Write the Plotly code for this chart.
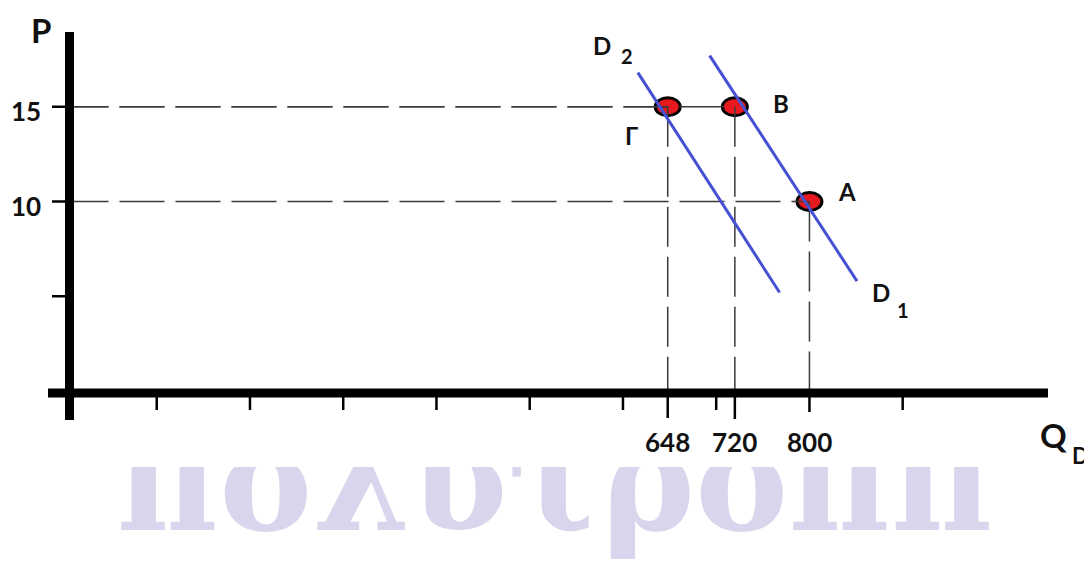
import plotly.graph_objects as go

W, H = 1092, 572
OFF = 8  # page body margin of the html page

# ---- data ----
q_points = [648, 720, 800]          # quantity demanded at the marked points
p_points = [15, 15, 10]             # price at the marked points
point_names = ["Γ", "B", "A"]
d1_q = [693, 851]                   # demand curve D1 end points
d1_p = [17.7, 5.8]
d2_q = [616, 768]                   # demand curve D2 end points
d2_p = [16.8, 5.2]
x_minor_ticks = [100, 200, 300, 400, 500, 600, 700, 900]
x_label_ticks = [648, 720, 800]
y_ticks = [5, 10, 15]
y_label_ticks = [10, 15]
watermark = "πολυτροππ"

X_RANGE = [-59.5, 1111.6]
Y_RANGE = [-9.974, 20.211]

BLUE = "#4650D2"
RED = "#E8191E"
DASH_COL = "#3a3a3a"
TXT = "#111111"
FONT = "Lato"


def pxx(x):
    return (x - OFF) / W


def pxy(y):
    return 1 - (y - OFF) / H


def page_to_data(x, y):
    fx, fy = pxx(x), pxy(y)
    return (X_RANGE[0] + fx * (X_RANGE[1] - X_RANGE[0]),
            Y_RANGE[0] + fy * (Y_RANGE[1] - Y_RANGE[0]))


fig = go.Figure()

# watermark (background text)
wx, wy = page_to_data(555, 495)
fig.add_trace(go.Scatter(x=[wx], y=[wy], mode="text", text=[f"<b>{watermark}</b>"],
                         textposition="middle center",
                         textfont=dict(family="DejaVu Serif", size=140, color="#DAD5ED"),
                         hoverinfo="skip", showlegend=False))

# dashed guide lines
for q, p in zip(q_points, p_points):
    fig.add_trace(go.Scatter(x=[0, q], y=[p, p], mode="lines",
                             line=dict(color=DASH_COL, width=1.5, dash="45px,11px"),
                             hoverinfo="skip", showlegend=False))
    fig.add_trace(go.Scatter(x=[q, q], y=[p, 0], mode="lines",
                             line=dict(color=DASH_COL, width=1.5, dash="40px,10px"),
                             hoverinfo="skip", showlegend=False))

# demand curves
fig.add_trace(go.Scatter(x=d1_q, y=d1_p, mode="lines", line=dict(color=BLUE, width=3),
                         hoverinfo="skip", showlegend=False))
fig.add_trace(go.Scatter(x=d2_q, y=d2_p, mode="lines", line=dict(color=BLUE, width=3),
                         hoverinfo="skip", showlegend=False))

shapes = []
# white band that clips the top of the watermark
shapes.append(dict(type="rect", xref="paper", yref="paper", x0=pxx(90), x1=pxx(1020),
                   y0=pxy(467), y1=pxy(424), fillcolor="white", line=dict(width=0), layer="above"))
# ellipse markers
for q, p in zip(q_points, p_points):
    shapes.append(dict(type="circle", xref="x", yref="y", xsizemode="pixel", ysizemode="pixel",
                       xanchor=q, yanchor=p, x0=-12.5, x1=12.5, y0=-9, y1=9,
                       fillcolor=RED, line=dict(color="black", width=3), layer="below"))

# axes lines
shapes.append(dict(type="line", xref="paper", yref="paper", x0=pxx(69.5), x1=pxx(69.5),
                   y0=pxy(32), y1=pxy(420), line=dict(color="black", width=9), layer="above"))
shapes.append(dict(type="line", xref="paper", yref="paper", x0=pxx(48), x1=pxx(1048),
                   y0=pxy(393), y1=pxy(393), line=dict(color="black", width=9), layer="above"))

# x ticks
for t in x_minor_ticks:
    shapes.append(dict(type="line", xref="x", yref="paper", x0=t, x1=t, y0=pxy(396), y1=pxy(410),
                       line=dict(color="black", width=2.5), layer="above"))
for t, ln in zip(x_label_ticks, [418, 419, 412]):
    shapes.append(dict(type="line", xref="x", yref="paper", x0=t, x1=t, y0=pxy(396), y1=pxy(ln),
                       line=dict(color="black", width=2.5), layer="above"))
# y ticks
for t in y_ticks:
    shapes.append(dict(type="line", xref="paper", yref="y", x0=pxx(52), x1=pxx(68), y0=t, y1=t,
                       line=dict(color="black", width=2.5), layer="above"))

ann = []


def label(text, x, y, size, xref="paper", yref="paper", xshift=0, yshift=0):
    ann.append(dict(text=f"<b>{text}</b>", xref=xref, yref=yref, x=x, y=y, xshift=xshift,
                    yshift=yshift, xanchor="center", yanchor="middle", showarrow=False,
                    font=dict(family=FONT, size=size, color=TXT)))


# axis titles
label("P", pxx(41), pxy(30), 33)
label("Q", pxx(1053), pxy(435), 33)
label("D", pxx(1080), pxy(455), 22)
# tick labels
for t in x_label_ticks:
    label(str(t), t, pxy(442), 26, xref="x")
for t in y_label_ticks:
    label(str(t), pxx(26), t, 26, yref="y", yshift=-4)
# point labels
for q, p, n, (dx, dy) in zip(q_points, p_points, point_names, [(-36, -29), (46, 3), (38, 10)]):
    label(n, q, p, 24, xref="x", yref="y", xshift=dx, yshift=dy)
# curve labels
label("D", pxx(602), pxy(45), 24)
label("2", pxx(627), pxy(56), 20)
label("D", pxx(881), pxy(292), 24)
label("1", pxx(903), pxy(310), 20)

fig.update_layout(
    width=W, height=H, autosize=False,
    margin=dict(l=0, r=0, t=0, b=0, pad=0),
    paper_bgcolor="white", plot_bgcolor="white",
    xaxis=dict(range=X_RANGE, visible=False, fixedrange=True),
    yaxis=dict(range=Y_RANGE, visible=False, fixedrange=True),
    shapes=shapes, annotations=ann, showlegend=False,
)

fig.write_html("out.html")
